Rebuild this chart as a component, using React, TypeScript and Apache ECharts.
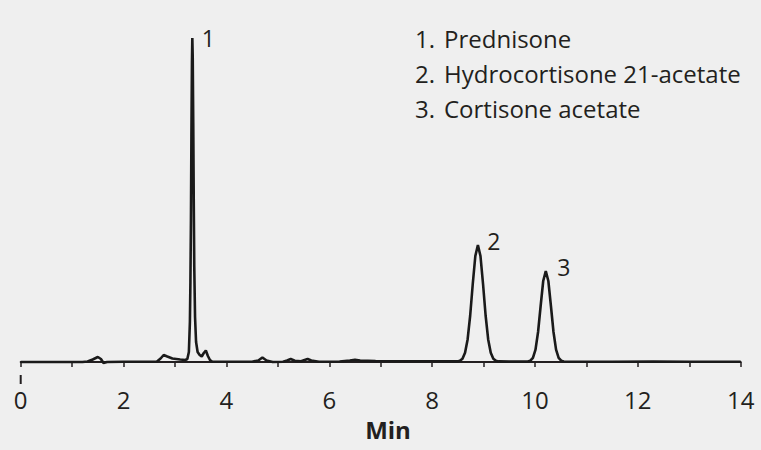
import React, { useEffect, useRef } from "react";
import * as echarts from "echarts";

// Retention time (min) and detector signal (relative units)
const timeMin: number[] = [
  0.0, 1.2, 1.3, 1.4, 1.5, 1.56, 1.61, 1.68, 2.0, 2.4, 2.65, 2.72, 2.78, 2.85, 2.95, 3.1, 3.2,
  3.24, 3.27, 3.29, 3.3, 3.31, 3.32, 3.33, 3.337, 3.345, 3.355, 3.365, 3.375, 3.39, 3.41, 3.44,
  3.48, 3.52, 3.56, 3.6, 3.64, 3.68, 3.72, 4.0, 4.5, 4.62, 4.7, 4.78, 4.9, 5.1, 5.18, 5.25, 5.33,
  5.45, 5.52, 5.58, 5.65, 5.8, 6.2, 6.4, 6.5, 6.6, 6.9, 7.5, 8.0, 8.4,
  8.49, 8.54, 8.59, 8.64, 8.69, 8.74, 8.79, 8.84, 8.89, 8.94, 8.99, 9.04, 9.09, 9.14, 9.19, 9.24,
  9.29, 9.5, 9.8,
  9.86, 9.91, 9.96, 10.01, 10.06, 10.11, 10.16, 10.21, 10.26, 10.31, 10.36, 10.41, 10.46, 10.51,
  10.56, 10.7, 11.5, 12.3, 13.0, 14.0,
];
const signal: number[] = [
  0, 0, 0.5, 2.5, 5, 3, -1, 0, 0.3, 0.3, 0.5, 3.5, 7, 5.5, 3.5, 2.5, 2,
  3, 10, 40, 80, 140, 230, 300, 324, 305, 240, 160, 95, 45, 20, 10,
  7, 5.5, 9, 11.5, 6, 2, 0.5, 0.3, 0.3, 1.5, 4.5, 1.5, 0, 0.3, 1.5, 3, 1.2,
  0.8, 2, 3, 1.5, 0.3, 0.5, 1.5, 2.2, 1.5, 1, 0.8, 0.8, 0.6,
  0.6, 1.2, 3.3, 9.2, 22.6, 46.5, 78, 106, 117, 106, 78, 46.5, 22.6, 9.2, 3.3, 1.2,
  0.6, 0.4, 0.4,
  0.5, 1.3, 4.2, 12.4, 30, 56, 81, 91, 81, 56, 30, 12.4, 4.2, 1.3,
  0.5, 0.2, 0.2, 0.4, 0.2, 0.2,
];

const peakLabels: string[] = ["1", "2", "3"];
const peakTimes: number[] = [3.337, 8.89, 10.21];
const peakHeights: number[] = [324, 117, 91];

const compoundNumbers: string[] = ["1.", "2.", "3."];
const compoundNames: string[] = ["Prednisone", "Hydrocortisone 21-acetate", "Cortisone acetate"];

const xTickLabels: number[] = [0, 2, 4, 6, 8, 10, 12, 14];
const xAxisTitle = "Min";

const INK = "#231f20";
const FONT = "'Open Sans', 'Noto Sans', sans-serif";

export default function App() {
  const ref = useRef<HTMLDivElement>(null);

  useEffect(() => {
    if (!ref.current) return;
    const chart = echarts.init(ref.current, undefined, { renderer: "svg" });

    const labelOffsets: [number, number][] = [
      [16, 0],
      [16, -4],
      [18, -4],
    ];

    const legendGraphics: any[] = [];
    compoundNames.forEach((name, i) => {
      const y = 38 + i * 35;
      legendGraphics.push({
        type: "text",
        x: 415,
        y,
        style: {
          text: compoundNumbers[i],
          fill: INK,
          font: `24px ${FONT}`,
          textAlign: "left",
          textVerticalAlign: "middle",
        },
      });
      legendGraphics.push({
        type: "text",
        x: 444,
        y,
        style: {
          text: name,
          fill: INK,
          font: `24px ${FONT}`,
          textAlign: "left",
          textVerticalAlign: "middle",
        },
      });
    });

    chart.setOption({
      animation: false,
      backgroundColor: "#efefef",
      grid: { left: 20.7, right: 20.3, top: 0, bottom: 75, containLabel: false },
      xAxis: {
        type: "value",
        min: 0,
        max: 14,
        interval: 1,
        axisLine: { show: true, lineStyle: { color: INK, width: 2 } },
        axisTick: { show: true, inside: false, length: 5, lineStyle: { color: INK, width: 1.5 } },
        splitLine: { show: false },
        axisLabel: {
          show: true,
          margin: 12,
          color: INK,
          fontSize: 24,
          fontFamily: FONT,
          formatter: (v: number) => (xTickLabels.includes(v) ? String(v) : ""),
        },
      },
      yAxis: {
        type: "value",
        min: -13,
        max: 362,
        show: false,
        splitLine: { show: false },
      },
      series: [
        {
          type: "line",
          data: timeMin.map((t, i) => [t, signal[i]]),
          showSymbol: false,
          symbol: "none",
          smooth: false,
          lineStyle: { color: "#1a1a1a", width: 2.6 },
          markPoint: {
            symbol: "circle",
            symbolSize: 1,
            itemStyle: { color: "rgba(0,0,0,0)" },
            label: {
              show: true,
              position: "inside",
              color: INK,
              fontSize: 23,
              fontFamily: FONT,
            },
            data: peakLabels.map((lab, i) => ({
              coord: [peakTimes[i], peakHeights[i]],
              value: lab,
              label: { formatter: lab, offset: labelOffsets[i] },
            })),
          },
        },
      ],
      graphic: [
        ...legendGraphics,
        {
          type: "line",
          shape: { x1: 20.7, y1: 375, x2: 20.7, y2: 384 },
          style: { stroke: INK, lineWidth: 2 },
        },
        {
          type: "text",
          x: 388,
          y: 429,
          style: {
            text: xAxisTitle,
            fill: INK,
            font: `bold 24px ${FONT}`,
            textAlign: "center",
            textVerticalAlign: "middle",
          },
        },
      ],
    });

    return () => chart.dispose();
  }, []);

  return (
    <div
      ref={ref}
      style={{ position: "fixed", left: 0, top: 0, width: 761, height: 450 }}
    />
  );
}
